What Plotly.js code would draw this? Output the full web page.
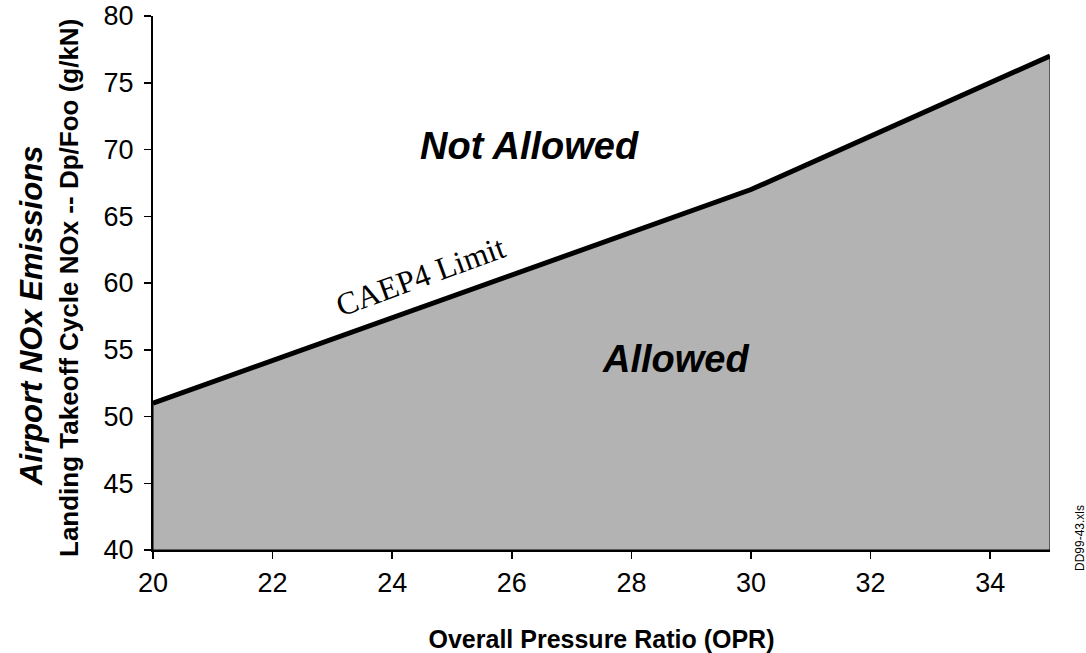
<!DOCTYPE html>
<html>
<head>
<meta charset="utf-8">
<script src="https://cdn.plot.ly/plotly-3.0.1.min.js"></script>
<style>html,body{margin:0;padding:0;background:#fff;}#chart{width:1086px;height:653px;}</style>
</head>
<body>
<div id="chart"></div>
<script>
// Data
const opr = [20, 30, 35];
const noxLimit = [51, 67, 77];
const floorY = 40;
const xTicks = [20, 22, 24, 26, 28, 30, 32, 34];
const yTicks = [40, 45, 50, 55, 60, 65, 70, 75, 80];

const polyX = [opr[0]].concat(opr, [opr[opr.length - 1], opr[0]]);
const polyY = [floorY].concat(noxLimit, [floorY, floorY]);

const font = 'Liberation Sans, Arial, sans-serif';

const traces = [
  {
    x: polyX, y: polyY, mode: 'lines', fill: 'toself',
    fillcolor: '#b3b3b3', line: {color: '#000', width: 1},
    hoverinfo: 'skip', showlegend: false
  },
  {
    x: opr, y: noxLimit, mode: 'lines',
    line: {color: '#000', width: 5}, showlegend: false
  }
];

const layout = {
  width: 1086, height: 653,
  margin: {l: 153, r: 36, t: 16, b: 103},
  paper_bgcolor: '#fff', plot_bgcolor: '#fff',
  showlegend: false,
  font: {family: font, color: '#000'},
  xaxis: {
    range: [20, 35], tickvals: xTicks, ticktext: xTicks.map(String),
    showgrid: false, zeroline: false, showline: true, linecolor: '#000', linewidth: 2,
    ticks: 'outside', ticklen: 7, tickwidth: 1.5, tickcolor: '#000',
    ticklabelstandoff: 1,
    tickfont: {family: font, size: 27, color: '#000'},
    title: {text: '<b>Overall Pressure Ratio (OPR)</b>', font: {family: font, size: 25, color: '#000'}, standoff: 34}
  },
  yaxis: {
    range: [40, 80], tickvals: yTicks, ticktext: yTicks.map(String),
    showgrid: false, zeroline: false, showline: true, linecolor: '#000', linewidth: 2,
    ticks: 'outside', ticklen: 7, tickwidth: 1.5, tickcolor: '#000',
    ticklabelstandoff: 5,
    tickfont: {family: font, size: 27, color: '#000'}
  },
  annotations: [
    {text: '<b><i>Airport NOx Emissions</i></b>', xref: 'paper', yref: 'paper',
     x: -153/897 + 31/897, y: (550 - 316) / 534, textangle: -90, showarrow: false,
     xanchor: 'center', yanchor: 'middle', font: {family: font, size: 31, color: '#000'}},
    {text: '<b>Landing Takeoff Cycle NOx -- Dp/Foo (g/kN)</b>', xref: 'paper', yref: 'paper',
     x: -153/897 + 69/897, y: (550 - 288) / 534, textangle: -90, showarrow: false,
     xanchor: 'center', yanchor: 'middle', font: {family: font, size: 26, color: '#000'}},
    {text: '<b><i>Not Allowed</i></b>', xref: 'x', yref: 'y', x: 26.3, y: 70.3, showarrow: false,
     font: {family: font, size: 38, color: '#000'}},
    {text: '<b><i>Allowed</i></b>', xref: 'x', yref: 'y', x: 28.73, y: 54.3, showarrow: false,
     font: {family: font, size: 38, color: '#000'}},
    {text: 'CAEP4 Limit', xref: 'x', yref: 'y', x: 24.48, y: 60.5, showarrow: false, textangle: -20,
     font: {family: 'Liberation Serif, Times New Roman, serif', size: 32, color: '#000'}},
    {text: 'DD99-43.xls', xref: 'paper', yref: 'paper', x: (1080 - 153) / 897, y: (550 - 538) / 534, showarrow: false, textangle: -90,
     xanchor: 'center', yanchor: 'middle', font: {family: font, size: 12, color: '#000'}}
  ]
};

Plotly.newPlot('chart', traces, layout, {displayModeBar: false, staticPlot: true});
</script>
</body>
</html>
